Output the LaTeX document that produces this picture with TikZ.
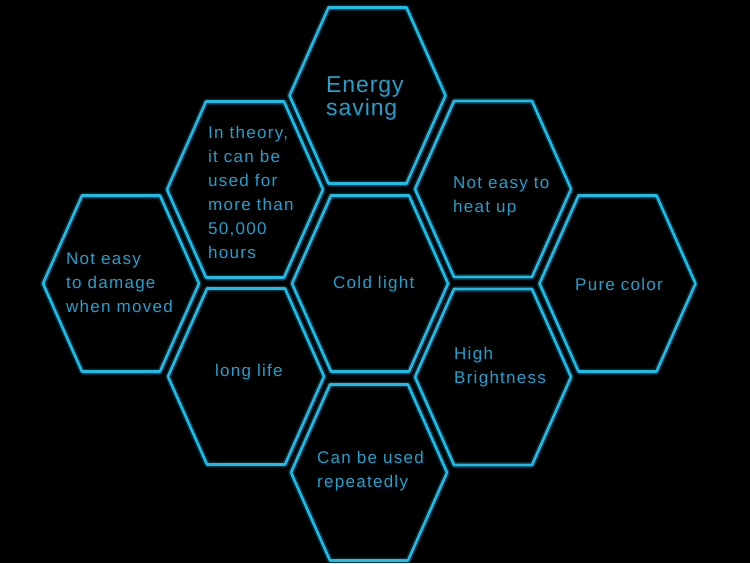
\documentclass[tikz,border=0pt]{standalone}
\usepackage{fontspec}
\setmainfont{Liberation Sans}
\newfontfamily\bodyf{Liberation Sans}[LetterSpace=7.5]
\newfontfamily\bigf{Liberation Sans}[LetterSpace=4]
\definecolor{hexline}{HTML}{18BEEC}
\definecolor{hextext}{HTML}{23A0CD}
\tikzset{
  hexglow/.style={draw=hexline, line width=6pt, opacity=0.22, line join=round},
  hexedge/.style={draw=hexline, line width=2.6pt, line join=round},
  lbl/.style={text=hextext, anchor=base west, inner sep=0pt, align=left,
    font=\bodyf\fontsize{17}{24}\selectfont},
  biglbl/.style={text=hextext, anchor=base west, inner sep=0pt, align=left,
    font=\bigf\fontsize{23}{22.5}\selectfont},
}
\newcommand{\hexcell}[2]{%
  \path[hexglow] (#1-78,#2) -- (#1-39,#2-88) -- (#1+39,#2-88) -- (#1+78,#2) -- (#1+39,#2+88) -- (#1-39,#2+88) -- cycle;
  \path[hexedge] (#1-78,#2) -- (#1-39,#2-88) -- (#1+39,#2-88) -- (#1+78,#2) -- (#1+39,#2+88) -- (#1-39,#2+88) -- cycle;
}
\begin{document}
\begin{tikzpicture}[x=1pt,y=-1pt]
\fill[black] (0,0) rectangle (750,563);
\useasboundingbox (0,0) rectangle (750,563);
\hexcell{367.5}{95.5}
\hexcell{245}{189.5}
\hexcell{493}{189}
\hexcell{121}{283.5}
\hexcell{370}{283.5}
\hexcell{617.5}{283.5}
\hexcell{246}{376.5}
\hexcell{493}{377}
\hexcell{369}{472.5}
\node[biglbl] (energy) at (326,115) {Energy\\saving};
\node[lbl] (theory) at (208,258) {In theory,\\it can be\\used for\\more than\\50,000\\hours};
\node[lbl] (heat) at (453,212) {Not easy to\\heat up};
\node[lbl] (damage) at (66,312) {Not easy\\to damage\\when moved};
\node[lbl] (cold) at (333,288) {Cold light};
\node[lbl] (pure) at (575,290) {Pure color};
\node[lbl] (life) at (215,376) {long life};
\node[lbl] (bright) at (454,383) {High\\Brightness};
\node[lbl] (repeat) at (317,487) {Can be used\\repeatedly};
\end{tikzpicture}
\end{document}
